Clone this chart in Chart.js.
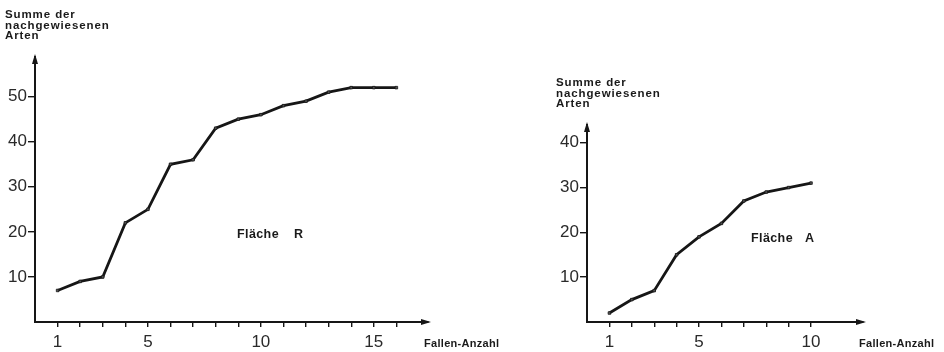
<!DOCTYPE html>
<html>
<head>
<meta charset="utf-8">
<script src="https://cdn.jsdelivr.net/npm/chart.js@4"></script>
<style>
	body { margin: 0; background: #fff; }
	#wrap { position: relative; width: 944px; height: 352px; overflow: hidden; }
	canvas { position: absolute; top: 0; }
	.lbl {
		position: absolute;
		font-family: 'Liberation Sans', Arial, sans-serif;
		font-weight: bold;
		color: #1a1a1a;
		white-space: pre;
	}
	.ytitle { font-size: 11.5px; line-height: 10.7px; letter-spacing: 0.9px; }
	.area { font-size: 12.5px; line-height: 12px; letter-spacing: 0.4px; }
	.xtitle { font-size: 11px; line-height: 12px; letter-spacing: 0.3px; }
</style>
</head>
<body>
<div id="wrap">
	<canvas id="chartR" width="470" height="352" style="left:0"></canvas>
	<canvas id="chartA" width="404" height="352" style="left:540px"></canvas>

	<div class="lbl ytitle" style="left:5px; top:9px">Summe der
nachgewiesenen
Arten</div>
	<div class="lbl ytitle" style="left:556px; top:77px">Summe der
nachgewiesenen
Arten</div>

	<div class="lbl area" style="left:237px; top:228px">Fläche</div>
	<div class="lbl area" style="left:294px; top:228px">R</div>
	<div class="lbl area" style="left:751px; top:231.5px">Fläche</div>
	<div class="lbl area" style="left:805px; top:231.5px">A</div>

	<div class="lbl xtitle" style="left:424px; top:337px">Fallen-Anzahl</div>
	<div class="lbl xtitle" style="left:859px; top:337px">Fallen-Anzahl</div>
</div>

<script>
// Fläche R
const trapsR = [1, 2, 3, 4, 5, 6, 7, 8, 9, 10, 11, 12, 13, 14, 15, 16];
const speciesR = [7, 9, 10, 22, 25, 35, 36, 43, 45, 46, 48, 49, 51, 52, 52, 52];
const xLabelsR = [1, 5, 10, 15];
const yTicksR = [10, 20, 30, 40, 50];

// Fläche A
const trapsA = [1, 2, 3, 4, 5, 6, 7, 8, 9, 10];
const speciesA = [2, 5, 7, 15, 19, 22, 27, 29, 30, 31];
const xLabelsA = [1, 5, 10];
const yTicksA = [10, 20, 30, 40];

const ink = '#161616';

// arrow heads at the ends of both axes
const axisArrows = {
	id: 'axisArrows',
	afterDraw(chart) {
		const { left, right, top, bottom } = chart.chartArea;
		const ctx = chart.ctx;
		ctx.save();
		ctx.fillStyle = ink;
		ctx.beginPath();
		ctx.moveTo(left, top - 3);
		ctx.lineTo(left - 3, top + 7);
		ctx.lineTo(left + 3, top + 7);
		ctx.closePath();
		ctx.fill();
		ctx.beginPath();
		ctx.moveTo(right + 3, bottom);
		ctx.lineTo(right - 7, bottom - 3);
		ctx.lineTo(right - 7, bottom + 3);
		ctx.closePath();
		ctx.fill();
		ctx.restore();
	},
};

function makeChart(id, traps, species, xLabels, yTicks, cfg) {
	return new Chart(document.getElementById(id), {
		type: 'line',
		data: {
			datasets: [{
				data: traps.map((x, i) => ({ x: x, y: species[i] })),
				borderColor: ink,
				borderWidth: 2.8,
				pointRadius: 1.8,
				pointStyle: 'rect',
				pointBackgroundColor: '#555',
				pointBorderColor: ink,
				pointBorderWidth: 0.8,
				tension: 0,
				clip: false,
			}],
		},
		options: {
			responsive: false,
			animation: false,
			devicePixelRatio: 1,
			layout: { padding: { left: 0, top: cfg.top, right: cfg.right, bottom: 0 } },
			plugins: { legend: { display: false }, tooltip: { enabled: false } },
			scales: {
				x: {
					type: 'linear',
					min: 0,
					max: cfg.xMax,
					afterBuildTicks: s => { s.ticks = traps.map(v => ({ value: v })); },
					afterFit: s => { s.height = 30; },
					ticks: {
						autoSkip: false,
						maxRotation: 0,
						padding: 5,
						color: '#2a2a2a',
						font: { family: 'Liberation Sans', size: 17 },
						callback: v => xLabels.includes(v) ? String(v) : '',
					},
					grid: { drawOnChartArea: false, tickLength: 5, color: ink, lineWidth: 1.4 },
					border: { color: ink, width: 2 },
				},
				y: {
					min: 0,
					max: cfg.yMax,
					afterBuildTicks: s => { s.ticks = yTicks.map(v => ({ value: v })); },
					afterFit: s => { s.width = cfg.yWidth; },
					ticks: {
						padding: 1,
						color: '#2a2a2a',
						font: { family: 'Liberation Sans', size: 17 },
					},
					grid: { drawOnChartArea: false, tickLength: 7, color: ink, lineWidth: 1.4 },
					border: { color: ink, width: 2 },
				},
			},
		},
		plugins: [axisArrows],
	});
}

makeChart('chartR', trapsR, speciesR, xLabelsR, yTicksR,
	{ top: 57, right: 42, yWidth: 35, xMax: 17.4, yMax: 58.8 });
makeChart('chartA', trapsA, speciesA, xLabelsA, yTicksA,
	{ top: 125, right: 81, yWidth: 47, xMax: 12.32, yMax: 43.96 });
</script>
</body>
</html>
